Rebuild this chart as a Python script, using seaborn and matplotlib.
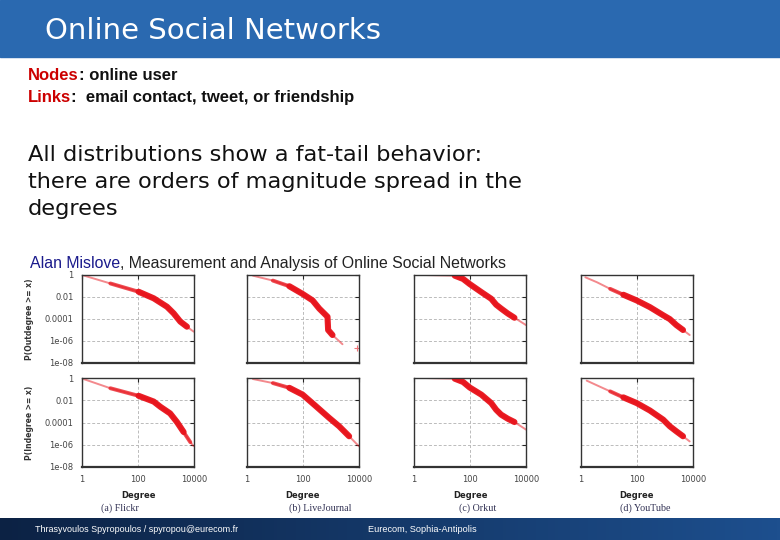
import numpy as np
import pandas as pd
import seaborn as sns
import matplotlib.pyplot as plt
from matplotlib.patches import Rectangle

# CCDF curves (degree, P(X >= degree))
flickr_out_deg = [1.15, 10.3, 105, 364, 1085, 1870, 3240, 5600, 9700]
flickr_out_p = [0.9, 0.17, 0.030, 7.6e-3, 1.3e-3, 3.3e-4, 5.8e-5, 2.0e-5, 7.1e-6]
flickr_in_deg = [1.15, 10.3, 105, 364, 627, 1400, 2460, 4250, 7400, 9700]
flickr_in_p = [0.8, 0.12, 0.025, 7.6e-3, 2.6e-3, 6.6e-4, 1.1e-4, 1.4e-5, 1.7e-6, 7.6e-7]

lj_out_deg = [1.63, 8.4, 32.6, 97, 220, 380, 570, 750, 790, 1130, 2570]
lj_out_p = [0.87, 0.31, 0.095, 0.019, 4.9e-3, 8.9e-4, 3.2e-4, 1.6e-4, 1e-5, 3.5e-6, 5.1e-7]
lj_out_stray_deg = [8700]
lj_out_stray_p = [2.2e-7]
lj_in_deg = [1.63, 8.4, 32.6, 97, 290, 860, 1950, 4440, 10000]
lj_in_p = [0.81, 0.35, 0.13, 0.032, 2.9e-3, 2.6e-4, 4.6e-5, 5.8e-6, 7.2e-7]

orkut_out_deg = [2.46, 28.5, 56.6, 97.6, 253, 572, 860, 1290, 2220, 3860, 10000]
orkut_out_p = [1, 0.87, 0.44, 0.15, 0.028, 6.9e-3, 2.0e-3, 8.9e-4, 3.2e-4, 1.3e-4, 2.8e-5]
orkut_in_deg = [2.46, 28.5, 56.6, 97.6, 253, 572, 860, 1290, 2220, 3860, 10000]
orkut_in_p = [1, 0.87, 0.44, 0.14, 0.032, 5.6e-3, 1.4e-3, 5.1e-4, 2.2e-4, 1.1e-4, 2.3e-5]

yt_out_deg = [1.43, 3.7, 11, 32.7, 97, 288, 860, 1480, 2550, 4400, 7600]
yt_out_p = [0.62, 0.22, 0.055, 0.016, 4.9e-3, 1.2e-3, 2.2e-4, 9.8e-5, 2.8e-5, 1e-5, 3.5e-6]
yt_in_deg = [1.6, 3.7, 11, 32.7, 97, 288, 860, 1480, 2550, 4400, 7600]
yt_in_p = [0.58, 0.22, 0.063, 0.018, 5.6e-3, 1.2e-3, 1.8e-4, 4.6e-5, 1.6e-5, 5.8e-6, 2.0e-6]

captions = ['(a) Flickr', '(b) LiveJournal', '(c) Orkut', '(d) YouTube']
ytick_vals = [1, 1e-2, 1e-4, 1e-6, 1e-8]
ytick_labels = ['1', '0.01', '0.0001', '1e-06', '1e-08']
xtick_vals = [1, 100, 10000]
xtick_labels = ['1', '100', '10000']

curves_out = [(flickr_out_deg, flickr_out_p), (lj_out_deg, lj_out_p),
              (orkut_out_deg, orkut_out_p), (yt_out_deg, yt_out_p)]
curves_in = [(flickr_in_deg, flickr_in_p), (lj_in_deg, lj_in_p),
             (orkut_in_deg, orkut_in_p), (yt_in_deg, yt_in_p)]

sns.set_style("white")
plt.rcParams['font.family'] = ['DejaVu Sans']

W, H = 780, 540
RED = '#e8141c'
fig = plt.figure(figsize=(7.8, 5.4), dpi=100)


def px(x, y):
    return x / W, 1 - y / H


# header bar
fig.patches.append(Rectangle((0, 1 - 57 / H), 1, 57 / H, transform=fig.transFigure,
                             color='#2a69b0', zorder=0))
fig.text(*px(45, 31), 'Online Social Networks', color='white', fontsize=21,
         va='center', ha='left')

# footer bar with gradient
fax = fig.add_axes([0, 0, 1, 22 / H])
grad = np.linspace(0, 1, 256).reshape(1, -1)
fax.imshow(grad, aspect='auto', cmap=sns.blend_palette(['#0c2244', '#1d4f8e'], as_cmap=True),
           extent=[0, 1, 0, 1])
fax.set_axis_off()
fig.text(*px(35, 529), 'Thrasyvoulos Spyropoulos / spyropou@eurecom.fr', color='white',
         fontsize=6.5, family='Liberation Sans', va='center')
fig.text(*px(368, 529), 'Eurecom, Sophia-Antipolis', color='white',
         fontsize=6.6, family='Liberation Sans', va='center')

# bullet lines
body = dict(fontsize=12, family='Liberation Sans', fontweight='bold')
t = fig.text(*px(28, 80), 'Nodes', color='#cc0000', **body)
plt.annotate(': online user', xy=(1, 0), xycoords=t, va='bottom', color='#111111', **body)
t2 = fig.text(*px(28, 102), 'Links', color='#cc0000', **body)
plt.annotate(':  email contact, tweet, or friendship', xy=(1, 0), xycoords=t2,
             va='bottom', color='#111111', **body)

fig.text(*px(28, 182), 'All distributions show a fat-tail behavior:\n'
         'there are orders of magnitude spread in the\ndegrees',
         fontsize=16.2, va='center', ha='left', linespacing=1.42, color='#111111')

attr = dict(fontsize=11.4, family='Liberation Sans')
t3 = fig.text(*px(30, 268), 'Alan Mislove', color='#1a1a8c', **attr)
plt.annotate(', Measurement and Analysis of Online Social Networks', xy=(1, 0),
             xycoords=t3, va='bottom', color='#222222', **attr)

lefts = [82, 247, 414, 581]
aw = 112
rows = [(275, 363), (378, 467)]

for i, left in enumerate(lefts):
    for r, (top, bottom) in enumerate(rows):
        ax = fig.add_axes([left / W, 1 - bottom / H, aw / W, (bottom - top) / H])
        ax.set_xscale('log')
        ax.set_yscale('log')
        deg, p = (curves_out if r == 0 else curves_in)[i]
        df = pd.DataFrame({'Degree': deg, 'P': p})
        dmax = df['Degree'].max()
        # sparse head/tail drawn thin, denser middle drawn thicker
        layers = [(df, 1.4, 0.5),
                  (df[(df['Degree'] >= 5) & (df['Degree'] <= dmax * 0.85)], 2.8, 0.75),
                  (df[(df['Degree'] >= 25) & (df['Degree'] <= dmax * 0.6)], 4.4, 0.95)]
        for part, lw, a in layers:
            sns.lineplot(data=part, x='Degree', y='P', ax=ax, color=RED, linewidth=lw,
                         estimator=None, sort=False, alpha=a, solid_capstyle='round',
                         solid_joinstyle='round')
        if i == 1 and r == 0:
            sns.scatterplot(x=lj_out_stray_deg, y=lj_out_stray_p, ax=ax, marker='+',
                            color=RED, s=14, linewidth=0.8, alpha=0.6)
        ax.set_xlim(1, 10000)
        ax.set_ylim(1e-8, 1)
        ax.set_yticks(ytick_vals)
        ax.set_xticks(xtick_vals)
        ax.minorticks_off()
        ax.set_yticklabels(ytick_labels if i == 0 else [''] * 5)
        ax.set_xticklabels(xtick_labels if r == 1 else [''] * 3)
        for v in ytick_vals[1:4]:
            ax.axhline(v, color='#bbbbbb', linestyle=(0, (3, 2)), linewidth=0.7, zorder=0)
        ax.axvline(100, color='#bbbbbb', linestyle=(0, (3, 2)), linewidth=0.7, zorder=0)
        ax.tick_params(direction='in', length=3, width=0.8, top=True, right=True,
                       labelsize=6, labelcolor='#444444', pad=6)
        for s in ax.spines.values():
            s.set_color('#333333')
            s.set_linewidth(1.0)
        ax.spines['bottom'].set_linewidth(1.6)
        ax.set_xlabel('')
        ax.set_ylabel('')
        if i == 0:
            ax.set_ylabel('P(Outdegree >= x)' if r == 0 else 'P(Indegree >= x)',
                          fontsize=5.5, fontweight='bold', color='#333333', labelpad=8)
        if r == 1:
            ax.text(0.5, -0.32, 'Degree', transform=ax.transAxes, ha='center', va='center',
                    fontsize=6, fontweight='bold', color='#222222')

caption_x = [120, 320, 478, 645]
for cx, cap in zip(caption_x, captions):
    fig.text(*px(cx, 508), cap, ha='center', va='center', fontsize=7.2,
             family='Liberation Serif', color='#333355')

fig.savefig('out.png', dpi=100)
